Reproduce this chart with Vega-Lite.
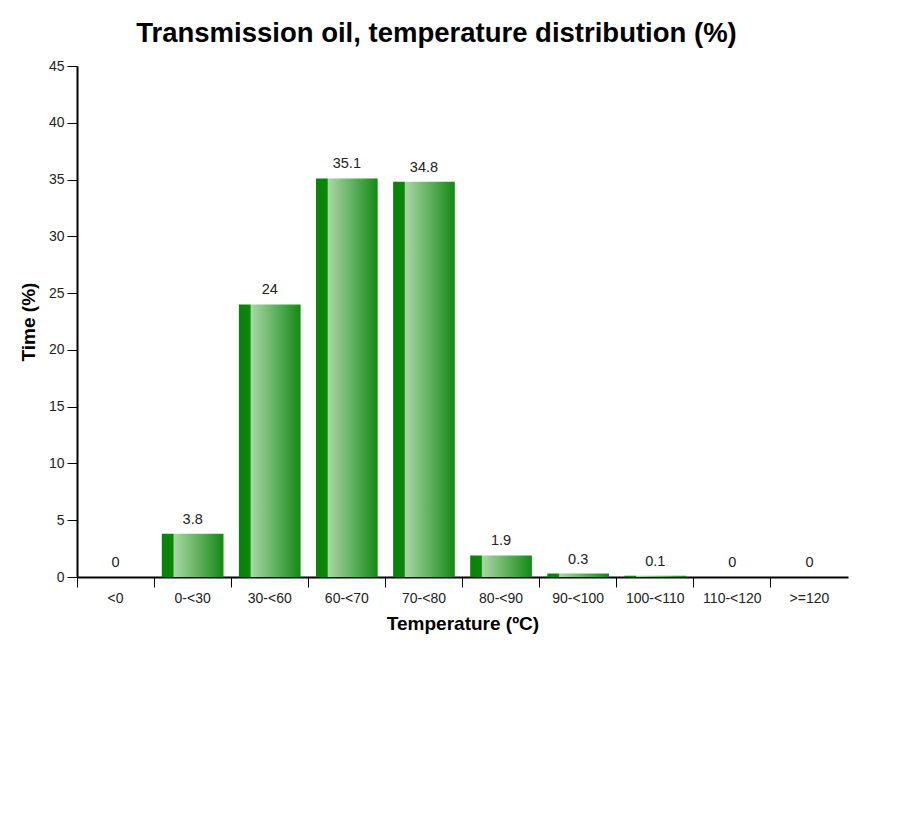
{
  "$schema": "https://vega.github.io/schema/vega-lite/v6.json",
  "autosize": "none",
  "width": 771,
  "height": 511,
  "padding": {"left": 77, "top": 66, "right": 61, "bottom": 249},
  "background": "white",
  "config": {
    "view": {"stroke": null},
    "font": "Liberation Sans"
  },
  "title": {
    "text": "Transmission oil, temperature distribution (%)",
    "fontSize": 27.5,
    "fontWeight": "bold",
    "font": "Liberation Sans",
    "color": "#000000",
    "anchor": "middle",
    "dx": -26,
    "offset": 12
  },
  "data": {
    "values": [
      {"range": "<0", "value": 0},
      {"range": "0-<30", "value": 3.8},
      {"range": "30-<60", "value": 24},
      {"range": "60-<70", "value": 35.1},
      {"range": "70-<80", "value": 34.8},
      {"range": "80-<90", "value": 1.9},
      {"range": "90-<100", "value": 0.3},
      {"range": "100-<110", "value": 0.1},
      {"range": "110-<120", "value": 0},
      {"range": ">=120", "value": 0}
    ]
  },
  "encoding": {
    "x": {
      "field": "range",
      "type": "nominal",
      "sort": null,
      "scale": {"paddingInner": 0, "paddingOuter": 0},
      "axis": {
        "title": "Temperature (ºC)",
        "titleFontSize": 19,
        "titleFontWeight": "bold",
        "titleColor": "#000000",
        "titlePadding": 9,
        "labelAngle": 0,
        "labelFontSize": 14,
        "labelColor": "#222222",
        "labelPadding": 4,
        "bandPosition": 0,
        "tickSize": 10,
        "tickColor": "#000000",
        "domainColor": "#000000",
        "domainWidth": 2,
        "tickWidth": 1
      }
    },
    "y": {
      "field": "value",
      "type": "quantitative",
      "scale": {"domain": [0, 45], "nice": false},
      "axis": {
        "title": "Time (%)",
        "titleFontSize": 19,
        "titleFontWeight": "bold",
        "titleColor": "#000000",
        "titlePadding": 10,
        "values": [0, 5, 10, 15, 20, 25, 30, 35, 40, 45],
        "grid": false,
        "labelFontSize": 14,
        "labelColor": "#222222",
        "labelPadding": 3,
        "tickSize": 10,
        "tickColor": "#000000",
        "domainColor": "#000000",
        "domainWidth": 2
      }
    }
  },
  "layer": [
    {
      "mark": {
        "type": "bar",
        "width": {"band": 0.8},
        "color": {
          "gradient": "linear",
          "x1": 0, "y1": 0, "x2": 1, "y2": 0,
          "stops": [
            {"offset": 0, "color": "#078407"},
            {"offset": 0.18, "color": "#0b870b"},
            {"offset": 0.2, "color": "#a9d6a3"},
            {"offset": 0.6, "color": "#5fb05f"},
            {"offset": 1, "color": "#138913"}
          ]
        }
      }
    },
    {
      "mark": {
        "type": "text",
        "baseline": "alphabetic",
        "dy": -10,
        "fontSize": 14.5,
        "color": "#222222"
      },
      "encoding": {
        "text": {"field": "value", "type": "quantitative"}
      }
    }
  ]
}
